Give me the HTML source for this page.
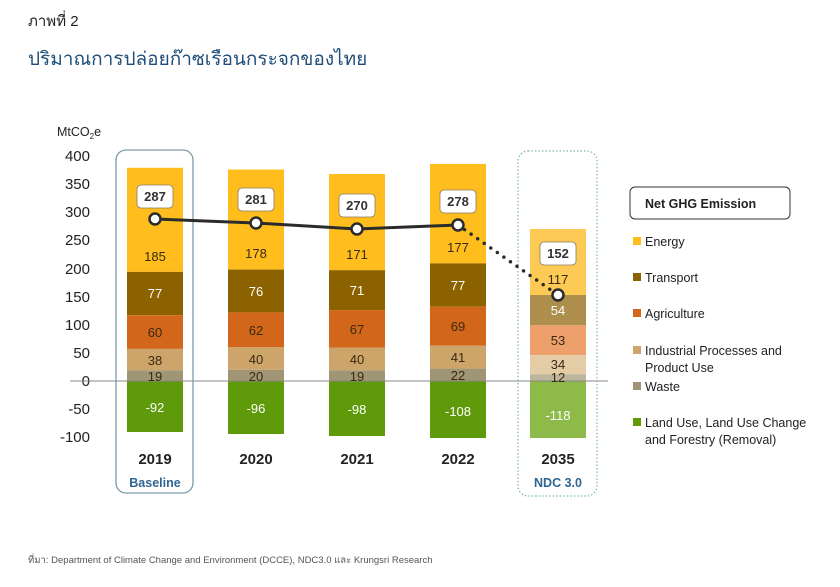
<!DOCTYPE html>
<html><head><meta charset="utf-8"><style>
body{margin:0;background:#fff;}
svg{display:block;font-family:"Liberation Sans","Noto Sans CJK SC",sans-serif;}
</style></head><body>
<svg width="840" height="587" viewBox="0 0 840 587" xmlns="http://www.w3.org/2000/svg">
<text x="28" y="26" font-size="15" fill="#222">ภาพที่ 2</text>
<text x="28" y="65" font-size="19" fill="#1f4e79">ปริมาณการปล่อยก๊าซเรือนกระจกของไทย</text>
<text x="57" y="136" font-size="12.5" fill="#222">MtCO<tspan font-size="8" dy="3">2</tspan><tspan dy="-3">e</tspan></text>
<g font-size="15" fill="#222" text-anchor="end">
<text x="90" y="161">400</text><text x="90" y="189">350</text><text x="90" y="217">300</text>
<text x="90" y="245">250</text><text x="90" y="274">200</text><text x="90" y="302">150</text>
<text x="90" y="330">100</text><text x="90" y="358">50</text><text x="90" y="386">0</text>
<text x="90" y="414">-50</text><text x="90" y="442">-100</text>
</g>
<rect x="116" y="150" width="77" height="343" rx="10" fill="none" stroke="#7c9aaa" stroke-width="1.3"/>
<rect x="518" y="151" width="79" height="345" rx="10" fill="none" stroke="#7fb3b3" stroke-width="1.2" stroke-dasharray="1.5,2"/>

<!-- 2019 -->
<rect x="127" y="167.8" width="56" height="104.1" fill="#FFBE1E"/>
<rect x="127" y="271.9" width="56" height="43.3" fill="#8C6100"/>
<rect x="127" y="315.2" width="56" height="33.7" fill="#D2661A"/>
<rect x="127" y="348.9" width="56" height="21.4" fill="#CDA56A"/>
<rect x="127" y="370.3" width="56" height="10.7" fill="#A09574"/>
<rect x="127" y="381" width="56" height="51" fill="#5E9A0A"/>
<!-- 2020 -->
<rect x="228" y="169.5" width="56" height="100.1" fill="#FFBE1E"/>
<rect x="228" y="269.6" width="56" height="42.8" fill="#8C6100"/>
<rect x="228" y="312.4" width="56" height="34.9" fill="#D2661A"/>
<rect x="228" y="347.3" width="56" height="22.5" fill="#CDA56A"/>
<rect x="228" y="369.8" width="56" height="11.2" fill="#A09574"/>
<rect x="228" y="381" width="56" height="53" fill="#5E9A0A"/>
<!-- 2021 -->
<rect x="329" y="174" width="56" height="96.2" fill="#FFBE1E"/>
<rect x="329" y="270.2" width="56" height="39.9" fill="#8C6100"/>
<rect x="329" y="310.1" width="56" height="37.7" fill="#D2661A"/>
<rect x="329" y="347.8" width="56" height="22.5" fill="#CDA56A"/>
<rect x="329" y="370.3" width="56" height="10.7" fill="#A09574"/>
<rect x="329" y="381" width="56" height="55" fill="#5E9A0A"/>
<!-- 2022 -->
<rect x="430" y="163.9" width="56" height="99.5" fill="#FFBE1E"/>
<rect x="430" y="263.4" width="56" height="43.3" fill="#8C6100"/>
<rect x="430" y="306.7" width="56" height="38.9" fill="#D2661A"/>
<rect x="430" y="345.6" width="56" height="23" fill="#CDA56A"/>
<rect x="430" y="368.6" width="56" height="12.4" fill="#A09574"/>
<rect x="430" y="381" width="56" height="57" fill="#5E9A0A"/>
<!-- 2035 -->
<rect x="530" y="229" width="56" height="66" fill="#FDCA55"/>
<rect x="530" y="295" width="56" height="30.3" fill="#AE8E4C"/>
<rect x="530" y="325.3" width="56" height="29.8" fill="#EEA06C"/>
<rect x="530" y="355.1" width="56" height="19.1" fill="#E3CCA6"/>
<rect x="530" y="374.2" width="56" height="6.8" fill="#BDB59C"/>
<rect x="530" y="381" width="56" height="57" fill="#8DBA48"/>

<line x1="70" y1="381" x2="608" y2="381" stroke="#888" stroke-width="1"/>

<g font-size="13" text-anchor="middle" fill="#3a2a10">
<text x="155" y="261">185</text><text x="256" y="258">178</text><text x="357" y="259">171</text><text x="458" y="252">177</text><text x="558" y="284">117</text>
<g fill="#fff"><text x="155" y="298">77</text><text x="256" y="296">76</text><text x="357" y="295">71</text><text x="458" y="290">77</text><text x="558" y="315">54</text></g>
<text x="155" y="337">60</text><text x="256" y="335">62</text><text x="357" y="334">67</text><text x="458" y="331">69</text><text x="558" y="345">53</text>
<text x="155" y="365">38</text><text x="256" y="364">40</text><text x="357" y="364">40</text><text x="458" y="362">41</text><text x="558" y="369">34</text>
<text x="155" y="381">19</text><text x="256" y="381">20</text><text x="357" y="381">19</text><text x="458" y="380">22</text><text x="558" y="382">12</text>
<g fill="#fff"><text x="155" y="412">-92</text><text x="256" y="413">-96</text><text x="357" y="414">-98</text><text x="458" y="416">-108</text><text x="558" y="420">-118</text></g>
</g>

<polyline points="155,219 256,223 357,229 458,225" fill="none" stroke="#2b2b2b" stroke-width="3"/>
<line x1="458" y1="225" x2="558" y2="295" stroke="#2b2b2b" stroke-width="3.5" stroke-linecap="round" stroke-dasharray="0,8"/>
<g fill="#fff" stroke="#2b2b2b" stroke-width="2.5">
<circle cx="155" cy="219" r="5.5"/><circle cx="256" cy="223" r="5.5"/><circle cx="357" cy="229" r="5.5"/><circle cx="458" cy="225" r="5.5"/><circle cx="558" cy="295" r="5.5"/>
</g>
<g fill="#fff" stroke="#8a7a60" stroke-width="0.8">
<rect x="137" y="185" width="36" height="23" rx="4"/><rect x="238" y="188" width="36" height="23" rx="4"/>
<rect x="339" y="194" width="36" height="23" rx="4"/><rect x="440" y="190" width="36" height="23" rx="4"/>
<rect x="540" y="242" width="36" height="23" rx="4"/>
</g>
<g font-size="13" font-weight="bold" text-anchor="middle" fill="#333">
<text x="155" y="201">287</text><text x="256" y="204">281</text><text x="357" y="210">270</text><text x="458" y="206">278</text><text x="558" y="258">152</text>
</g>

<g font-size="15" font-weight="bold" text-anchor="middle" fill="#222">
<text x="155" y="464">2019</text><text x="256" y="464">2020</text><text x="357" y="464">2021</text><text x="458" y="464">2022</text><text x="558" y="464">2035</text>
</g>
<g font-size="12.5" font-weight="bold" text-anchor="middle" fill="#2e6592">
<text x="155" y="487">Baseline</text><text x="558" y="487">NDC 3.0</text>
</g>

<rect x="630" y="187" width="160" height="32" rx="5" fill="#fff" stroke="#333" stroke-width="1"/>
<text x="645" y="208" font-size="12.5" font-weight="bold" fill="#222">Net GHG Emission</text>
<g font-size="12.5" fill="#222">
<rect x="633" y="237" width="8" height="8" fill="#FFBE1E"/><text x="645" y="246">Energy</text>
<rect x="633" y="273" width="8" height="8" fill="#8C6100"/><text x="645" y="282">Transport</text>
<rect x="633" y="309" width="8" height="8" fill="#D2661A"/><text x="645" y="318">Agriculture</text>
<rect x="633" y="346" width="8" height="8" fill="#CDA56A"/><text x="645" y="355">Industrial Processes and</text><text x="645" y="372">Product Use</text>
<rect x="633" y="382" width="8" height="8" fill="#A09574"/><text x="645" y="391">Waste</text>
<rect x="633" y="418" width="8" height="8" fill="#5E9A0A"/><text x="645" y="427">Land Use, Land Use Change</text><text x="645" y="444">and Forestry (Removal)</text>
</g>
<text x="28" y="563" font-size="9.5" fill="#555">ที่มา: Department of Climate Change and Environment (DCCE), NDC3.0 และ Krungsri Research</text>
</svg>
</body></html>
